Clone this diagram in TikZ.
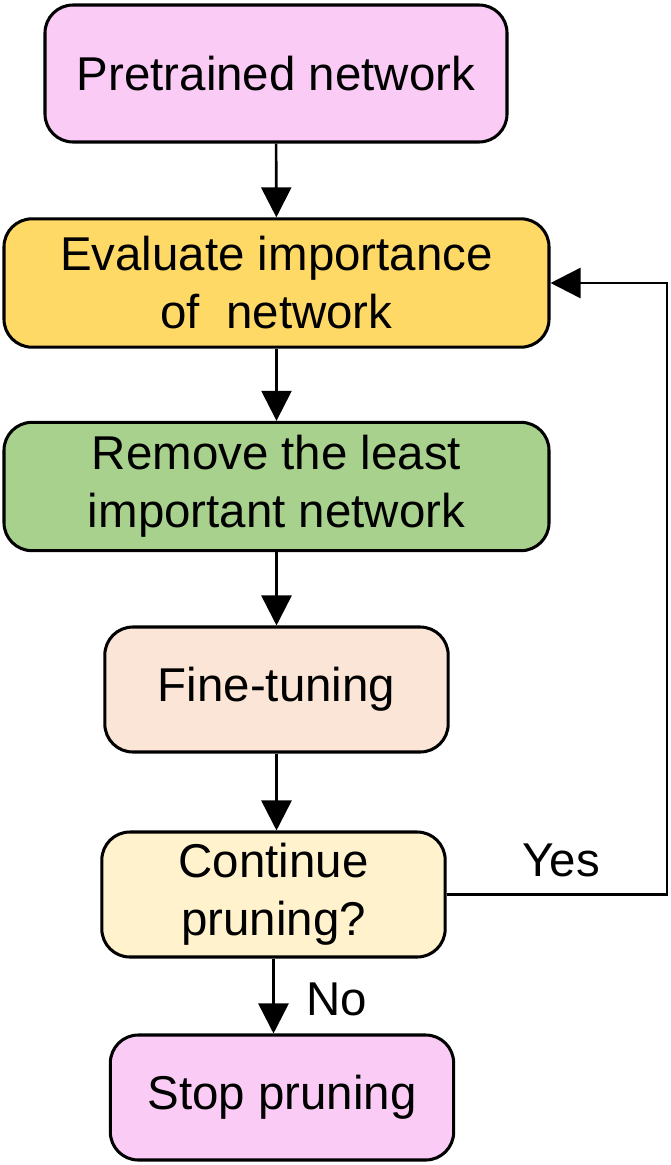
\documentclass[tikz,border=0pt]{standalone}
\usepackage{fontspec}
\setmainfont{Liberation Sans}
\usetikzlibrary{arrows.meta}

\definecolor{pinkbox}{HTML}{F9CBF5}
\definecolor{orangebox}{HTML}{FFD966}
\definecolor{greenbox}{HTML}{A9D18E}
\definecolor{peachbox}{HTML}{FBE5D6}
\definecolor{creambox}{HTML}{FFF2CC}

\begin{document}
\begin{tikzpicture}[x=0.03cm,y=-0.03cm,
    box/.style={draw=black, line width=2.6pt, rounded corners=0.84cm,
        align=center, inner sep=0pt, font=\fontsize{40.5pt}{49.5pt}\selectfont},
    widebox/.style={box, minimum width=16.35cm, minimum height=3.85cm},
    smallbox/.style={box, minimum width=10.3cm, minimum height=3.75cm},
    flow/.style={line width=2.2pt, -{Triangle[length=0.9cm,width=0.9cm]}},
    lbl/.style={font=\fontsize{40.5pt}{49.5pt}\selectfont, inner sep=0pt}]

    \useasboundingbox (0,0) rectangle (671,1165);

    % kroky
    \node[box, fill=pinkbox, minimum width=13.86cm, minimum height=4.11cm]
        (pre) at (276,73.5) {Pretrained network};
    \node[widebox, fill=orangebox] (eval) at (276.5,283) {Evaluate importance\\of\ \ network};
    \node[widebox, fill=greenbox] (remove) at (276.5,486.5) {Remove the least\\important network};
    \node[smallbox, fill=peachbox] (fine) at (276.5,689.5) {Fine-tuning};
    \node[smallbox, fill=creambox] (cont) at (273.5,894.5) {Continue\\pruning?};
    \node[smallbox, fill=pinkbox] (stop) at (282,1097.5) {Stop pruning};

    % šipky
    \draw[flow] (pre) -- (eval);
    \draw[flow] (eval) -- (remove);
    \draw[flow] (remove.south) -- (remove.south |- fine.north);
    \draw[flow] (fine.south) -- (fine.south |- cont.north);
    \draw[flow] (cont.south) -- (cont.south |- stop.north);

    % smyčka zpět
    \coordinate (rail) at (667,600);
    \draw[flow] (cont.east) -- (cont.east -| rail) |- (eval.east);

    \node[lbl] (yes) at (561,860) {Yes};
    \node[lbl] (no) at (337,999) {No};

\end{tikzpicture}
\end{document}
